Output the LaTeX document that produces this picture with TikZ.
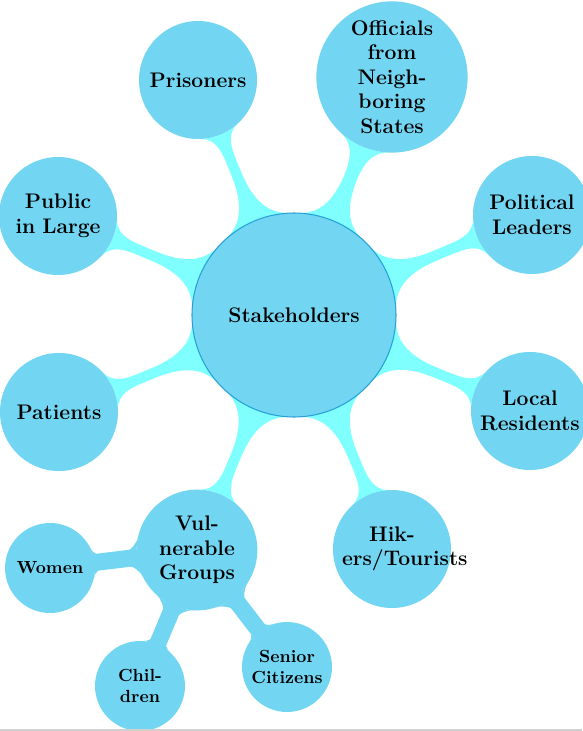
\documentclass[tikz,border=0pt]{standalone}
\usepackage{xcolor}
\usepackage{tikz}
\usetikzlibrary{mindmap,backgrounds}
\definecolor{conceptsky}{RGB}{114,214,243}
\definecolor{barcyan}{RGB}{128,255,255}
\definecolor{rootblue}{RGB}{38,160,215}
\definecolor{edgegrey}{RGB}{208,208,208}
\tikzset{
  hub/.style={concept,fill=conceptsky,draw=rootblue,semithick,align=center,
    minimum size=4.08cm,text width=3.2cm,inner sep=0pt,font=\large\bfseries},
  stakeholder/.style={concept,fill=conceptsky,draw=none,align=center,
    minimum size=2.36cm,text width=2cm,inner sep=0pt,font=\large\bfseries},
  subgroup/.style={concept,fill=conceptsky,draw=none,align=center,
    minimum size=1.8cm,text width=1.5cm,inner sep=0pt,font=\normalsize\bfseries},
  hublink/.style={circle connection bar switch color=from (barcyan) to (barcyan)},
  grouplink/.style={circle connection bar switch color=from (conceptsky) to (conceptsky)},
  groupneck/.style={draw=conceptsky,line width=0.34cm}
}

\begin{document}
\begin{tikzpicture}[mindmap,x=0.2mm,y=-0.2mm]
  \useasboundingbox (0,0) rectangle (582,731);
  \node[hub] (root) at (294,315) {Stakeholders};
  \node[stakeholder] (prisoners) at (198,80) {Prisoners};
  \node[stakeholder] (officials) at (392,77) {Officials\\from\\Neigh-\\boring\\States};
  \node[stakeholder] (political) at (532,215) {Political\\Leaders};
  \node[stakeholder] (local) at (530,411) {Local\\Residents};
  \node[stakeholder] (hikers) at (392,549) {Hik-\\ers/Tourists};
  \node[stakeholder] (vulnerable) at (197,550) {Vul-\\nerable\\Groups};
  \node[stakeholder] (patients) at (59,412) {Patients};
  \node[stakeholder] (public) at (58,216) {Public\\in Large};
  \node[subgroup] (women) at (50,568) {Women};
  \node[subgroup] (children) at (140,686) {Chil-\\dren};
  \node[subgroup] (senior) at (287,667) {Senior\\Citizens};
  \begin{scope}[on background layer]
    \path (root) to[hublink] (prisoners);
    \path (root) to[hublink] (officials);
    \path (root) to[hublink] (political);
    \path (root) to[hublink] (local);
    \path (root) to[hublink] (hikers);
    \path (root) to[hublink] (vulnerable);
    \path (root) to[hublink] (patients);
    \path (root) to[hublink] (public);
    \path (vulnerable) to[grouplink] (women);
    \path (vulnerable) to[grouplink] (children);
    \path (vulnerable) to[grouplink] (senior);
    \draw[groupneck] (vulnerable.center) -- (women.center);
    \draw[groupneck] (vulnerable.center) -- (children.center);
    \draw[groupneck] (vulnerable.center) -- (senior.center);
  \end{scope}
  \draw[edgegrey] (0,730) -- (582,730);
\end{tikzpicture}
\end{document}
